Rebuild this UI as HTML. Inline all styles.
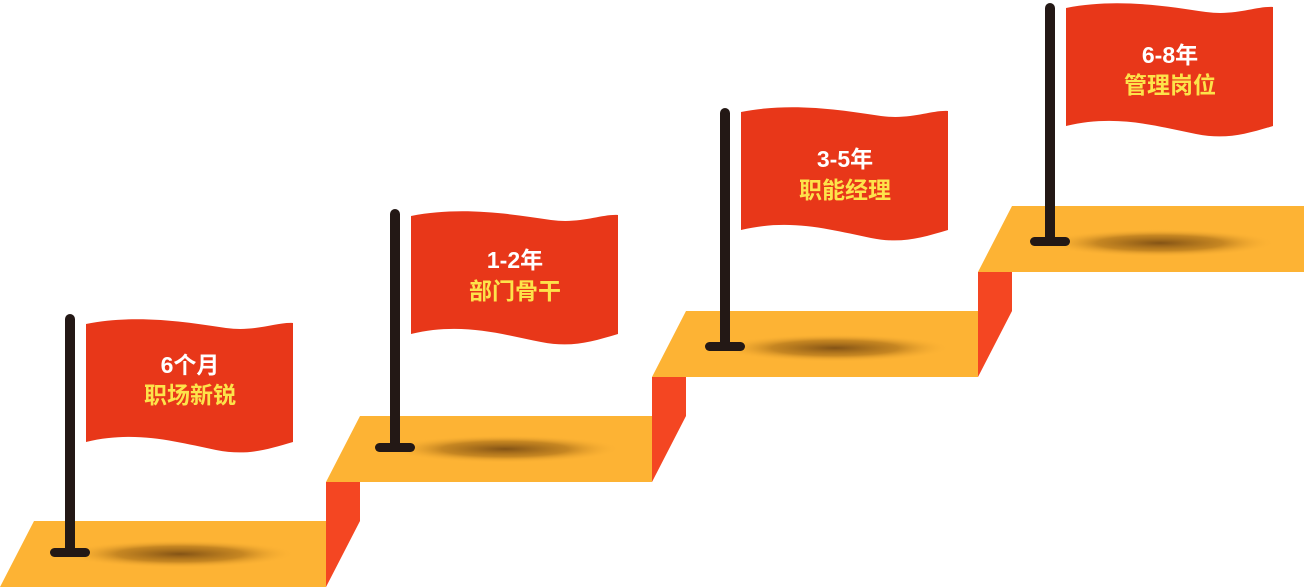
<!DOCTYPE html>
<html><head><meta charset="utf-8"><style>
html,body{margin:0;padding:0;background:#fff;}
svg{display:block}
text{font-family:"Liberation Sans","Noto Sans CJK SC",sans-serif;font-weight:bold;text-anchor:middle;font-size:23px}
</style></head><body>
<svg width="1304" height="587" viewBox="0 0 1304 587" xmlns="http://www.w3.org/2000/svg">
<defs>
<radialGradient id="sh" cx="0.5" cy="0.5" r="0.5">
<stop offset="0" stop-color="#6e4210" stop-opacity="0.85"/>
<stop offset="0.55" stop-color="#905a10" stop-opacity="0.5"/>
<stop offset="1" stop-color="#fdb334" stop-opacity="0"/>
</radialGradient>
<g id="flag">
<path d="M0,6 C50,-4 100,4 140,10 C170,14 190,4 207,5 L207,124 C180,132 160,138 130,132 C90,124 50,112 0,124 Z" fill="#e83719"/>
</g>
<g id="pole">
<ellipse cx="110" cy="2" rx="115" ry="14" fill="url(#sh)"/>
<rect x="-5" y="-238" width="10" height="240" rx="5" fill="#231815"/>
<rect x="-20" y="-4" width="40" height="9" rx="4.5" fill="#231815"/>
</g>
</defs>
<polygon points="326,482 360,482 360,521 326,587" fill="#f44622"/>
<polygon points="652,377 686,377 686,416 652,482" fill="#f44622"/>
<polygon points="978,272 1012,272 1012,311 978,377" fill="#f44622"/>
<polygon points="34,521 326,521 326,587 0,587" fill="#fdb334"/>
<polygon points="360,416 652,416 652,482 326,482" fill="#fdb334"/>
<polygon points="686,311 978,311 978,377 652,377" fill="#fdb334"/>
<polygon points="1012,206 1304,206 1304,272 978,272" fill="#fdb334"/>

<use href="#pole" x="70" y="552"/>
<use href="#flag" x="86" y="318"/>
<text x="190" y="373" fill="#fff">6个月</text>
<text x="190" y="403" fill="#fde34a">职场新锐</text>

<use href="#pole" x="395" y="447"/>
<use href="#flag" x="411" y="210"/>
<text x="515" y="268" fill="#fff">1-2年</text>
<text x="515" y="299" fill="#fde34a">部门骨干</text>

<use href="#pole" x="725" y="346"/>
<use href="#flag" x="741" y="106"/>
<text x="845" y="167" fill="#fff">3-5年</text>
<text x="845" y="198" fill="#fde34a">职能经理</text>

<use href="#pole" x="1050" y="241"/>
<use href="#flag" x="1066" y="2"/>
<text x="1170" y="63" fill="#fff">6-8年</text>
<text x="1170" y="93" fill="#fde34a">管理岗位</text>
</svg>
</body></html>
